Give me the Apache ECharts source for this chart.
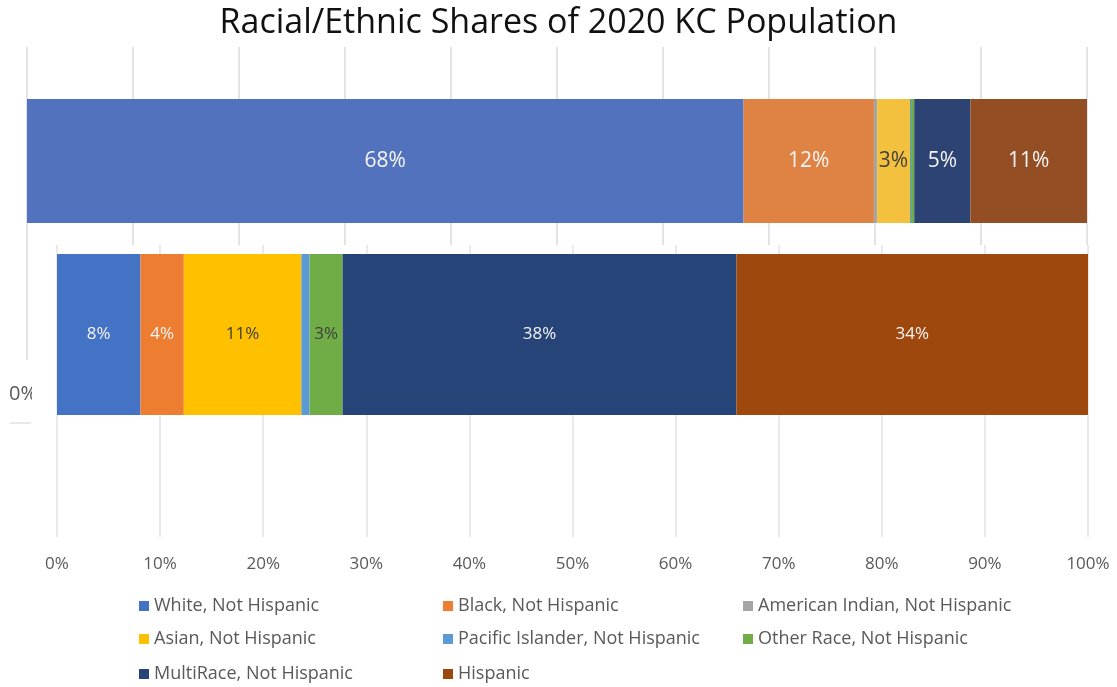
<!DOCTYPE html>
<html>
<head>
<meta charset="utf-8">
<script src="https://cdn.jsdelivr.net/npm/echarts@6/dist/echarts.min.js"></script>
<style>
  html, body { margin: 0; padding: 0; background: #fff; }
  #chart { width: 1117px; height: 687px; }
</style>
</head>
<body>
<div id="chart"></div>
<script>
// Population groups, in stacking order
const categories = [
  'White, Not Hispanic',
  'Black, Not Hispanic',
  'American Indian, Not Hispanic',
  'Asian, Not Hispanic',
  'Pacific Islander, Not Hispanic',
  'Other Race, Not Hispanic',
  'MultiRace, Not Hispanic',
  'Hispanic'
];

// Percent shares for the upper bar (2020 KC population)
const upperShares = [67.6, 12.3, 0.3, 3.1, 0.1, 0.3, 5.3, 11.0];
// Percent shares for the lower bar
const lowerShares = [8.1, 4.2, 0, 11.4, 0.8, 3.2, 38.2, 34.1];

const upperColors = ['#5272BE', '#DF8344', '#A5A5A5', '#F4C13F', '#5B9BD5', '#70AD47', '#2D4373', '#934E23'];
const lowerColors = ['#4472C4', '#ED7D31', '#A5A5A5', '#FFC000', '#5B9BD5', '#70AD47', '#264478', '#9E480E'];
const darkLabel = [false, false, false, true, false, true, false, false];

const chart = echarts.init(document.getElementById('chart'), null, { renderer: 'canvas' });

const font = 'Open Sans, Lato, sans-serif';

function pctLabel(size, idx) {
  return {
    show: true,
    position: 'inside',
    fontFamily: font,
    fontSize: size,
    color: darkLabel[idx] ? '#404040' : '#F4F4F4',
    formatter: p => (p.value >= 2 ? Math.round(p.value) + '%' : '')
  };
}

const series = [];
categories.forEach((name, i) => {
  series.push({
    name, type: 'bar', stack: 'lower',
    xAxisIndex: 3, yAxisIndex: 3,
    barWidth: '100%',
    itemStyle: { color: lowerColors[i] },
    label: pctLabel(17, i),
    data: [lowerShares[i]]
  });
});
categories.forEach((name, i) => {
  series.push({
    name, type: 'bar', stack: 'upper',
    xAxisIndex: 1, yAxisIndex: 1,
    barWidth: '100%',
    itemStyle: { color: upperColors[i] },
    label: pctLabel(21, i),
    data: [upperShares[i]]
  });
});

// Legend laid out as a 3-column grid, one entry per legend box
const legendCols = [134, 438, 738];
const legendRows = [592, 625, 660];
const legends = categories.map((name, i) => ({
  left: legendCols[i % 3], top: legendRows[Math.floor(i / 3)],
  itemWidth: 10, itemHeight: 10, icon: 'rect', itemGap: 0,
  textStyle: { fontFamily: font, fontSize: 18, color: '#595959' },
  data: [{ name, itemStyle: { color: lowerColors[i] } }]
}));

const hiddenY = { type: 'category', data: [''], show: false };
const hiddenX = { type: 'value', min: 0, max: 100, show: false };

chart.setOption({
  animation: false,
  title: {
    text: 'Racial/Ethnic Shares of 2020 KC Population',
    left: 'center', top: 1,
    textStyle: { fontFamily: font, fontSize: 34, fontWeight: 'normal', color: '#111' }
  },
  legend: legends,
  grid: [
    { left: 27, right: 30, top: 47, height: 198 },
    { left: 27, right: 30, top: 99, height: 124 },
    { left: 57, right: 29, top: 245, height: 292 },
    { left: 57, right: 29, top: 254, height: 161 }
  ],
  xAxis: [
    {
      gridIndex: 0, type: 'value', min: 0, max: 100, interval: 10,
      axisLine: { show: false }, axisTick: { show: false }, axisLabel: { show: false },
      splitLine: { lineStyle: { color: '#DADADA', width: 1.5 } }
    },
    Object.assign({ gridIndex: 1 }, hiddenX),
    {
      gridIndex: 2, type: 'value', min: 0, max: 100, interval: 10,
      axisLine: { show: false }, axisTick: { show: false },
      axisLabel: { formatter: '{value}%', margin: 19, fontFamily: font, fontSize: 17, color: '#595959' },
      splitLine: { lineStyle: { color: '#E3E3E3', width: 1.5 } }
    },
    Object.assign({ gridIndex: 3 }, hiddenX)
  ],
  yAxis: [
    Object.assign({ gridIndex: 0 }, hiddenY),
    Object.assign({ gridIndex: 1 }, hiddenY, { data: ['KC 2020'] }),
    Object.assign({ gridIndex: 2 }, hiddenY),
    Object.assign({ gridIndex: 3 }, hiddenY, { data: ['KC'] })
  ],
  graphic: [
    { type: 'line', shape: { x1: 27, y1: 245, x2: 27, y2: 360 }, style: { stroke: '#DADADA', lineWidth: 1.5 } },
    { type: 'line', shape: { x1: 10, y1: 423, x2: 31, y2: 423 }, style: { stroke: '#E0E0E0', lineWidth: 1.5 } },
    { type: 'text', left: 9, top: 384, z: 1, style: { text: '0%', font: '20px ' + font, fill: '#595959' } },
    { type: 'rect', shape: { x: 32, y: 380, width: 23, height: 34 }, z: 2, style: { fill: '#fff' } }
  ],
  series
});
</script>
</body>
</html>
